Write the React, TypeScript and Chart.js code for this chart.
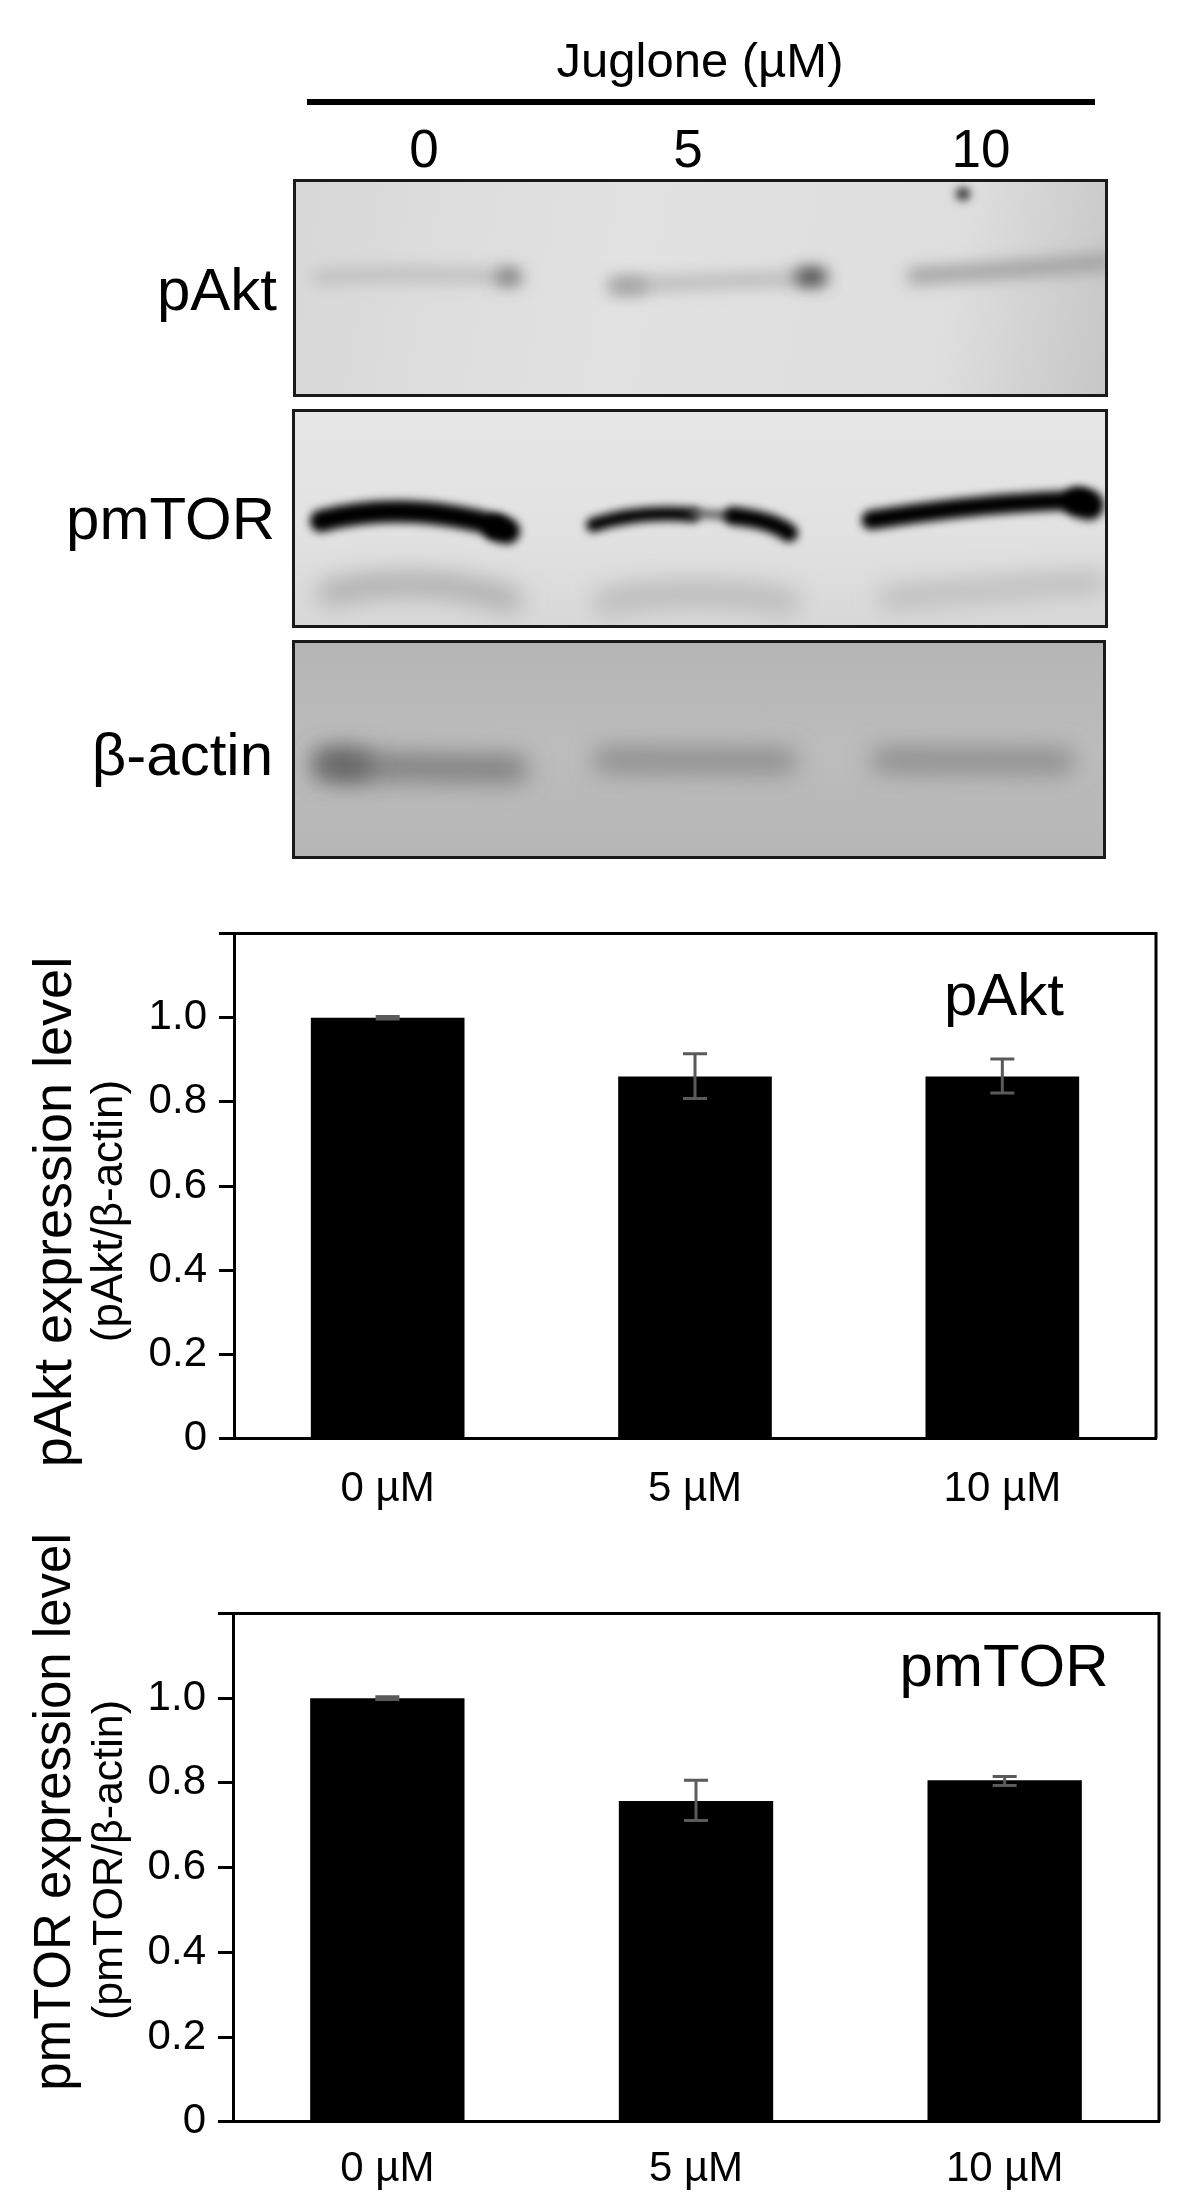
import React, { useEffect, useRef } from 'react'
import { Chart, registerables } from 'chart.js'

Chart.register(...registerables)

const FONT = '"Liberation Sans", Arial, sans-serif'

const doseLabels = ['0 µM', '5 µM', '10 µM']
const yTickLabels = ['0', '0.2', '0.4', '0.6', '0.8', '1.0', '']

const aktValues = [1.0, 0.86, 0.86]
const aktErrHigh = [1.003, 0.914, 0.902]
const aktErrLow = [0.997, 0.808, 0.821]

const mtorValues = [1.0, 0.757, 0.806]
const mtorErrHigh = [1.003, 0.806, 0.815]
const mtorErrLow = [0.997, 0.711, 0.794]

const blotLanes = ['0', '5', '10']
const blotNames = ['pAkt', 'pmTOR', 'β-actin']

const errorBars = {
  id: 'errorBars',
  afterDatasetsDraw(chart: any, _args: any, opts: any) {
    const { ctx } = chart
    const meta = chart.getDatasetMeta(0)
    const y = chart.scales.y
    ctx.save()
    ctx.strokeStyle = '#5a5a5a'
    ctx.lineWidth = 3
    meta.data.forEach((bar: any, i: number) => {
      const hi = y.getPixelForValue(opts.high[i])
      const lo = y.getPixelForValue(opts.low[i])
      ctx.beginPath()
      ctx.moveTo(bar.x, hi)
      ctx.lineTo(bar.x, lo)
      ctx.moveTo(bar.x - 12, hi)
      ctx.lineTo(bar.x + 12, hi)
      ctx.moveTo(bar.x - 12, lo)
      ctx.lineTo(bar.x + 12, lo)
      ctx.stroke()
    })
    ctx.restore()
  },
}

// frame on top/right + the rotated titles and the label inside the plot
const panelText = {
  id: 'panelText',
  afterDraw(chart: any, _args: any, opts: any) {
    const { ctx, chartArea } = chart
    ctx.save()
    ctx.strokeStyle = '#000'
    ctx.lineWidth = 3
    ctx.beginPath()
    ctx.moveTo(chartArea.left, chartArea.top)
    ctx.lineTo(chartArea.right, chartArea.top)
    ctx.lineTo(chartArea.right, chartArea.bottom)
    ctx.stroke()

    ctx.fillStyle = '#000'
    ctx.textAlign = 'center'
    ctx.textBaseline = 'middle'
    ctx.font = `${opts.nameSize}px ${FONT}`
    ctx.fillText(opts.name, opts.nameX, opts.nameY)

    const rotated = (text: string, size: number, x: number, y: number) => {
      ctx.save()
      ctx.translate(x, y)
      ctx.rotate(-Math.PI / 2)
      ctx.font = `${size}px ${FONT}`
      ctx.fillText(text, 0, 0)
      ctx.restore()
    }
    rotated(opts.title, opts.titleSize, opts.titleX, opts.titleY)
    rotated(opts.sub, opts.subSize, opts.subX, opts.subY)
    ctx.restore()
  },
}

interface BarPanelProps {
  top: number
  width: number
  height: number
  plotTop: number
  plotHeight: number
  plotLeft: number
  labelPad: number
  values: number[]
  high: number[]
  low: number[]
  text: any
}

const BarPanel: React.FC<BarPanelProps> = ({ top, width, height, plotTop, plotHeight, plotLeft, labelPad, values, high, low, text }) => {
  const ref = useRef<HTMLCanvasElement>(null)
  useEffect(() => {
    if (!ref.current) return
    const chart = new Chart(ref.current, {
      type: 'bar',
      data: {
        labels: doseLabels,
        datasets: [
          {
            data: values,
            backgroundColor: '#000',
            barPercentage: 0.5,
            categoryPercentage: 1,
          },
        ],
      },
      plugins: [errorBars, panelText],
      options: {
        responsive: false,
        animation: false,
        devicePixelRatio: 1,
        layout: { padding: { top: plotTop, right: 3, left: 0, bottom: 0 } },
        plugins: {
          legend: { display: false },
          tooltip: { enabled: false },
          errorBars: { high, low },
          panelText: text,
        },
        scales: {
          x: {
            grid: { display: false },
            border: { color: '#000', width: 3 },
            ticks: { color: '#000', font: { family: FONT, size: 42 }, padding: labelPad, maxRotation: 0 },
            afterFit: (s: any) => {
              s.height = height - plotTop - plotHeight
            },
          },
          y: {
            min: 0,
            max: 1.2,
            grid: { drawOnChartArea: false, tickLength: 15, tickColor: '#000', tickWidth: 3 },
            border: { color: '#000', width: 3 },
            ticks: {
              stepSize: 0.2,
              color: '#000',
              padding: 12,
              font: { family: FONT, size: 42 },
              callback: (_v: any, i: number) => yTickLabels[i],
            },
            afterFit: (s: any) => {
              s.width = plotLeft
            },
          },
        },
      } as any,
    })
    return () => chart.destroy()
  }, [])
  return <canvas ref={ref} width={width} height={height} style={{ position: 'absolute', left: 0, top, display: 'block' }} />
}

const Blot: React.FC<{ top: number; left: number; width: number; height: number; bg: string; id: string; children: React.ReactNode }> = ({
  top,
  left,
  width,
  height,
  bg,
  id,
  children,
}) => (
  <svg
    width={width}
    height={height}
    viewBox={`0 0 ${width} ${height}`}
    style={{ position: 'absolute', left, top, display: 'block', background: bg, outline: '3px solid #1a1a1a', outlineOffset: -2 }}
  >
    <defs>
      <filter id={`${id}-s`} filterUnits="userSpaceOnUse" x="0" y="0" width={width} height={height}><feGaussianBlur stdDeviation="4" /></filter>
      <filter id={`${id}-m`} filterUnits="userSpaceOnUse" x="0" y="0" width={width} height={height}><feGaussianBlur stdDeviation="8" /></filter>
      <filter id={`${id}-l`} filterUnits="userSpaceOnUse" x="0" y="0" width={width} height={height}><feGaussianBlur stdDeviation="12" /></filter>
    </defs>
    {children}
  </svg>
)

const band = (id: string, d: string, color: string, w: number, blur = 'm', op = 1) => (
  <path d={d} fill="none" stroke={color} strokeWidth={w} strokeLinecap="round" opacity={op} filter={`url(#${id}-${blur})`} />
)

const label = (text: string, size: number, right: number, y: number) => (
  <div
    style={{
      position: 'absolute',
      right: 1178 - right,
      top: y - size * 0.6,
      fontFamily: FONT,
      fontSize: size,
      lineHeight: `${size * 1.2}px`,
      color: '#000',
      whiteSpace: 'nowrap',
    }}
  >
    {text}
  </div>
)

const centred = (text: string, size: number, x: number, y: number) => (
  <div
    style={{
      position: 'absolute',
      left: x - 200,
      width: 400,
      textAlign: 'center',
      top: y - size * 0.6,
      fontFamily: FONT,
      fontSize: size,
      lineHeight: `${size * 1.2}px`,
      color: '#000',
    }}
  >
    {text}
  </div>
)

export default function App() {
  return (
    <div style={{ position: 'absolute', left: 0, top: 0, width: 1178, height: 2201, background: '#fff', overflow: 'hidden' }}>
      {centred('Juglone (µM)', 49, 700, 60)}
      <div style={{ position: 'absolute', left: 307, top: 99, width: 788, height: 6, background: '#000' }} />
      {centred(blotLanes[0], 53, 424, 149)}
      {centred(blotLanes[1], 53, 688, 149)}
      {centred(blotLanes[2], 53, 981, 149)}

      <Blot id="a" left={294} top={180} width={813} height={216} bg="linear-gradient(100deg,#d8d8d8,#e2e2e2 40%,#dedede 80%,#c6c6c6)">
        {band('a', 'M25 97 Q120 92 215 97', '#bcbcbc', 14, 'm')}
        {band('a', 'M210 97 L220 97', '#7a7a7a', 16, 'm')}
        {band('a', 'M318 106 Q420 102 525 97', '#b8b8b8', 14, 'm')}
        {band('a', 'M325 106 L345 106', '#a0a0a0', 16, 'm')}
        {band('a', 'M510 97 L524 97', '#484848', 18, 'm')}
        {band('a', 'M620 96 Q720 90 812 82', '#9c9c9c', 15, 'm')}
        {band('a', 'M668 14 L670 14', '#3a3a3a', 13, 's')}
      </Blot>
      <Blot id="b" left={293} top={410} width={814} height={217} bg="linear-gradient(180deg,#e6e6e6,#e2e2e2 55%,#d8d8d8)">
        {band('b', 'M35 183 Q130 162 218 190', '#a8a8a8', 22, 'l')}
        {band('b', 'M312 192 Q400 175 495 192', '#b8b8b8', 24, 'l')}
        {band('b', 'M595 188 Q700 178 805 172', '#b8b8b8', 20, 'l')}
        {band('b', 'M28 111 Q110 90 205 116', '#000', 22, 's')}
        {band('b', 'M203 118 L214 121', '#000', 26, 's')}
        {band('b', 'M300 115 Q345 100 400 105', '#000', 14, 's')}
        {band('b', 'M400 103 L440 106', '#555', 8, 's')}
        {band('b', 'M440 106 Q480 110 496 123', '#000', 18, 's')}
        {band('b', 'M578 110 Q690 92 790 90', '#000', 19, 's')}
        {band('b', 'M785 92 L796 95', '#000', 30, 's')}
      </Blot>
      <Blot id="c" left={293} top={641} width={812} height={217} bg="linear-gradient(180deg,#b5b5b5,#bcbcbc 50%,#b6b6b6)">
        {band('c', 'M35 125 L222 128', '#7c7c7c', 26, 'l')}
        {band('c', 'M35 122 L65 124', '#626262', 28, 'l')}
        {band('c', 'M312 119 L492 120', '#8a8a8a', 24, 'l')}
        {band('c', 'M590 119 L770 120', '#8a8a8a', 24, 'l')}
      </Blot>

      {label(blotNames[0], 60, 277, 290)}
      {label(blotNames[1], 60, 275, 519)}
      {label(blotNames[2], 60, 273, 755)}

      <BarPanel
        top={880}
        width={1159}
        height={650}
        plotTop={53.5}
        plotHeight={505}
        plotLeft={234}
        labelPad={18}
        values={aktValues}
        high={aktErrHigh}
        low={aktErrLow}
        text={{
          name: 'pAkt',
          nameSize: 60,
          nameX: 1004,
          nameY: 118,
          title: 'pAkt expression level',
          titleSize: 54,
          titleX: 56,
          titleY: 332,
          sub: '(pAkt/β-actin)',
          subSize: 44,
          subX: 110,
          subY: 331,
        }}
      />
      <BarPanel
        top={1530}
        width={1162}
        height={671}
        plotTop={83.4}
        plotHeight={508.4}
        plotLeft={233}
        labelPad={14}
        values={mtorValues}
        high={mtorErrHigh}
        low={mtorErrLow}
        text={{
          name: 'pmTOR',
          nameSize: 60,
          nameX: 1004,
          nameY: 139,
          title: 'pmTOR expression level',
          titleSize: 51,
          titleX: 56,
          titleY: 282,
          sub: '(pmTOR/β-actin)',
          subSize: 43,
          subX: 110,
          subY: 330,
        }}
      />
    </div>
  )
}
